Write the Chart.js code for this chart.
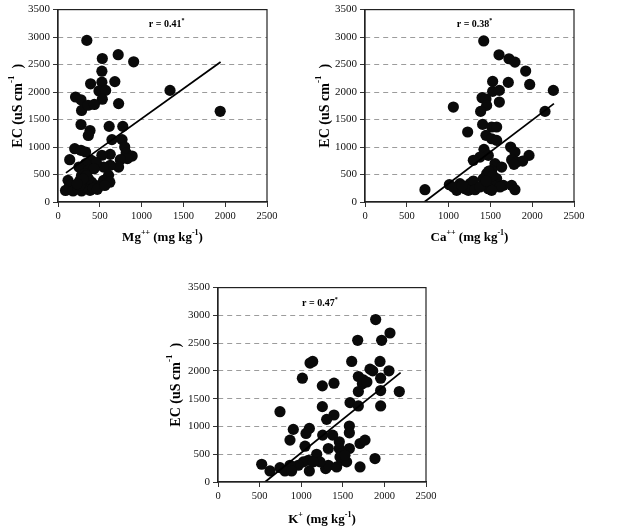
<!DOCTYPE html>
<html>
<head>
<meta charset="utf-8">
<script src="https://cdn.jsdelivr.net/npm/chart.js@4/dist/chart.umd.min.js"></script>
<style>
html,body{margin:0;padding:0;background:#fff;}
body{width:620px;height:531px;position:relative;overflow:hidden;}
.box{position:absolute;}
</style>
</head>
<body>
<div class="box" id="b1" style="left:0px;top:0px;width:290px;height:250px;"><canvas id="c1"></canvas></div>
<div class="box" id="b2" style="left:307px;top:0px;width:290px;height:250px;"><canvas id="c2"></canvas></div>
<div class="box" id="b3" style="left:160px;top:278px;width:290px;height:253px;"><canvas id="c3"></canvas></div>
<script>
// ---- Data ----
const mgX = [345,720,530,905,525,525,680,390,490,570,530,210,275,282,360,435,725,275,612,775,383,363,200,275,330,645,766,798,140,625,525,815,887,830,745,725,625,545,400,460,330,250,302,363,430,605,545,504,443,343,282,262,200,120,140,90,180,282,383,302,242,400,363,322,262,1340,1940,620,340,300,230,420,470,560];
const mgY = [2940,2680,2610,2550,2380,2180,2190,2150,2020,2030,1870,1910,1860,1665,1760,1775,1790,1410,1375,1375,1300,1210,970,940,910,1135,1135,1000,770,867,850,890,836,790,770,636,667,636,757,715,697,636,575,575,606,485,394,303,303,333,485,394,303,394,303,210,200,200,212,273,242,364,424,515,303,2030,1650,360,480,420,330,250,230,300];

const caX = [1420,1603,1722,1794,1922,1970,2253,2153,1527,1714,1527,1607,1400,1447,1455,1607,1383,1057,1407,1515,1575,1228,1447,1515,1575,1742,1794,1962,1754,1814,1886,1782,1423,1475,1375,1296,1555,1635,1515,1455,1415,1495,1575,1535,1435,1475,717,1009,1097,1136,1196,1256,1296,1236,1316,1655,1754,1794,1615,1375,1515,1057,1160,1480,1530,1450];
const caY = [2930,2678,2606,2545,2382,2139,2030,1648,2194,2176,2012,2030,1897,1873,1757,1818,1648,1727,1412,1364,1364,1273,1212,1151,1121,1000,909,848,770,727,745,685,958,848,818,758,697,636,576,515,424,394,424,303,333,242,224,315,212,333,242,333,382,212,224,303,303,224,273,273,212,273,300,560,480,380];

const kX = [1895,2067,1967,1679,1138,1106,1607,1947,2055,1827,1014,1687,1747,1955,1735,1687,1955,2179,1254,1394,1587,1687,1955,1254,1394,1306,745,905,1098,1058,1579,1579,865,1046,1258,1378,1707,1767,1326,1458,1579,1458,1486,1186,1086,1026,965,865,745,525,625,805,885,1098,1294,1326,1426,1486,1546,1707,1887,1226,1146,1466,1526,1790,1860];
const kY = [2925,2683,2551,2551,2171,2141,2171,2171,2002,2032,1869,1899,1839,1869,1767,1628,1646,1628,1731,1779,1429,1369,1369,1357,1206,1128,1266,947,965,874,1007,886,754,645,844,844,693,754,603,724,603,603,512,500,392,362,302,302,259,320,199,199,199,199,241,302,271,392,362,271,422,362,362,452,482,1800,2000];

// regression lines (end points)
const mgLineX = [95,1945],  mgLineY = [530,2545];
const caLineX = [710,2260], caLineY = [0,1790];
const kLineX  = [565,2195], kLineY  = [0,1970];

const rLabels = ['0.41','0.38','0.47'];
const xTitles = [
  [['Mg',''],['++','sup'],[' (mg kg',''],['-1','sup'],[')','']],
  [['Ca',''],['++','sup'],[' (mg kg',''],['-1','sup'],[')','']],
  [['K',''],['+','sup'],[' (mg kg',''],['-1','sup'],[')','']]
];
const yTitle = [['EC (uS cm',''],['-1','sup'],['  )','']];

const FAM = '"Liberation Serif","Times New Roman",serif';

function drawRich(ctx, parts, cx, cy, size){
  const fn = p => p[1]==='sup' ? `bold ${Math.round(size*0.62)}px ${FAM}` : `bold ${size}px ${FAM}`;
  let w = 0;
  parts.forEach(p => { ctx.font = fn(p); w += ctx.measureText(p[0]).width; });
  let x = cx - w/2;
  ctx.textBaseline = 'middle'; ctx.textAlign = 'left'; ctx.fillStyle = '#000';
  parts.forEach(p => {
    ctx.font = fn(p);
    ctx.fillText(p[0], x, p[1]==='sup' ? cy - size*0.42 : cy);
    x += ctx.measureText(p[0]).width;
  });
}

const deco = {
  id: 'deco',
  afterDraw(chart, args, opts){
    const {ctx, chartArea: a, scales} = chart;
    ctx.save();
    ctx.strokeStyle = '#222'; ctx.lineWidth = 1.2;
    ctx.strokeRect(a.left, a.top, a.right - a.left, a.bottom - a.top);
    // r label
    const rx = scales.x.getPixelForValue(opts.rx), ry = scales.y.getPixelForValue(opts.ry);
    drawRich(ctx, [['r = ' + opts.r, ''], ['*', 'sup']], rx, ry, 10);
    // x title
    drawRich(ctx, opts.xt, (a.left + a.right)/2, a.bottom + opts.xoff, 13);
    // y title
    ctx.translate(a.left - opts.yoff, (a.top + a.bottom)/2);
    ctx.rotate(-Math.PI/2);
    drawRich(ctx, yTitle, 0, 0, 14);
    ctx.restore();
  }
};

function makeChart(id, xs, ys, lx, ly, r, xt, rx, ry, padR, xH, yoff, xoff){
  const pts = xs.map((v,i) => ({x: v, y: ys[i]}));
  const line = lx.map((v,i) => ({x: v, y: ly[i]}));
  const plain = v => String(v);
  return new Chart(document.getElementById(id), {
    type: 'scatter',
    data: {datasets: [
      {data: line, showLine: true, pointRadius: 0, borderColor: '#000', borderWidth: 1.8, fill: false},
      {data: pts, pointRadius: 5.6, backgroundColor: '#0a0a0a', borderWidth: 0}
    ]},
    options: {
      responsive: true, maintainAspectRatio: false, animation: false, devicePixelRatio: 1,
      layout: {padding: {left: 0, right: padR, top: 9, bottom: 0}},
      plugins: {legend: {display: false}, tooltip: {enabled: false},
        deco: {r: r, xt: xt, rx: rx, ry: ry, yoff: yoff, xoff: xoff}},
      scales: {
        x: {type: 'linear', min: 0, max: 2500,
            ticks: {stepSize: 500, font: {family: FAM, size: 10.5}, color: '#111', padding: 3, maxRotation: 0, callback: plain},
            grid: {drawOnChartArea: false, tickLength: 5, tickColor: '#333'},
            border: {color: '#222', width: 1.2},
            afterFit: s => { s.height = xH; }},
        y: {type: 'linear', min: 0, max: 3500,
            ticks: {stepSize: 500, font: {family: FAM, size: 11}, color: '#111', padding: 3, callback: plain},
            grid: {tickLength: 5, tickColor: '#333', lineWidth: 1,
                   color: c => (c.tick && (c.tick.value === 0 || c.tick.value === 3500)) ? 'rgba(0,0,0,0)' : '#9c9c9c'},
            border: {color: '#222', width: 1.2, dash: [5, 4]},
            afterFit: s => { s.width = 58; }}
      }
    },
    plugins: [deco]
  });
}

makeChart('c1', mgX, mgY, mgLineX, mgLineY, rLabels[0], xTitles[0], 1300, 3230, 23, 48, 40, 36);
makeChart('c2', caX, caY, caLineX, caLineY, rLabels[1], xTitles[1], 1310, 3230, 23, 48, 40, 36);
makeChart('c3', kX, kY, kLineX, kLineY, rLabels[2], xTitles[2], 1225, 3215, 24, 49, 42, 38);
</script>
</body>
</html>
